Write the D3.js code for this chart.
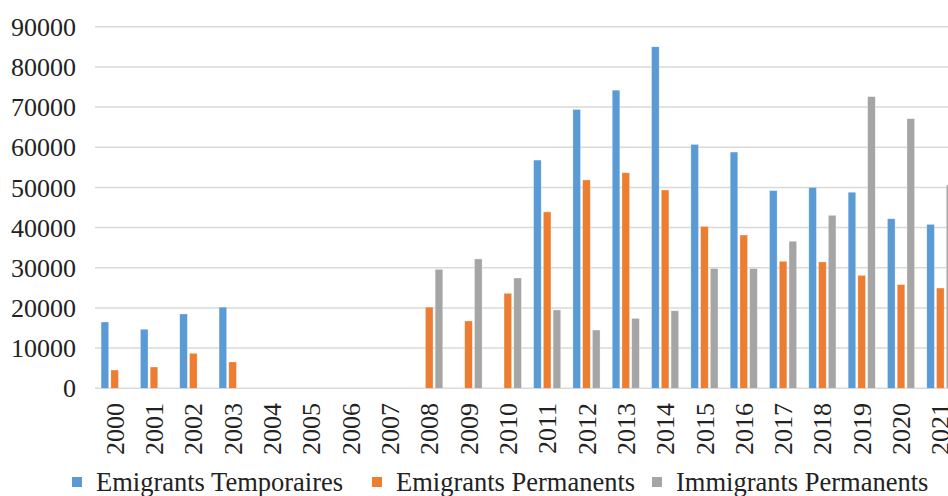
<!DOCTYPE html>
<html>
<head>
<meta charset="utf-8">
<script src="https://cdn.jsdelivr.net/npm/d3@7"></script>
<style>
  body { margin: 0; background: #fff; }
  svg { display: block; overflow: hidden; }
  text { font-family: "Liberation Serif", "Times New Roman", serif; fill: #222; }
</style>
</head>
<body>
<svg id="chart"></svg>
<script>
// values, null = no bar
var years = ["2000","2001","2002","2003","2004","2005","2006","2007","2008","2009","2010",
             "2011","2012","2013","2014","2015","2016","2017","2018","2019","2020","2021"];
var emigrantsTemporaires = [16500,14700,18500,20200,null,null,null,null,null,null,null,
                            56800,69400,74200,85000,60700,58800,49200,50000,48800,42200,40800];
var emigrantsPermanents = [4550,5300,8700,6550,null,null,null,null,20200,16750,23650,
                           43900,51850,53650,49350,40300,38150,31600,31450,28100,25800,24950];
var immigrantsPermanents = [null,null,null,null,null,null,null,null,29600,32200,27450,
                            19500,14500,17400,19300,29800,29800,36600,43050,72600,67100,50600];
var seriesNames = ["Emigrants Temporaires", "Emigrants Permanents", "Immigrants Permanents"];
var yTicks = [0,10000,20000,30000,40000,50000,60000,70000,80000,90000];

var colors = ["#5B9BD5", "#ED7D31", "#A5A5A5"];
var allSeries = [emigrantsTemporaires, emigrantsPermanents, immigrantsPermanents];

function drawChart() {
  var svgWidth = 948, svgHeight = 496;
  var plotLeft = 95, plotRight = 960, plotTop = 26.7, plotBottom = 388.3;

  var svg = d3.select("#chart")
    .attr("width", svgWidth)
    .attr("height", svgHeight);

  var x0 = d3.scaleBand()
    .domain(years)
    .range([plotLeft, plotRight])
    .paddingInner(0.31)
    .paddingOuter(0.155);

  var x1 = d3.scaleBand()
    .domain(d3.range(seriesNames.length))
    .range([0, x0.bandwidth()])
    .paddingInner(0.22);

  var y = d3.scaleLinear()
    .domain([0, 90000])
    .range([plotBottom, plotTop]);

  // gridlines
  svg.append("g")
    .selectAll("line")
    .data(yTicks)
    .join("line")
    .attr("x1", plotLeft)
    .attr("x2", svgWidth)
    .attr("y1", function (d) { return y(d) })
    .attr("y2", function (d) { return y(d) })
    .attr("stroke", "#d9d9d9")
    .attr("stroke-width", 1.5);

  // y labels
  svg.append("g")
    .selectAll("text")
    .data(yTicks)
    .join("text")
    .attr("x", 76)
    .attr("y", function (d) { return y(d) })
    .attr("dy", "0.35em")
    .attr("text-anchor", "end")
    .attr("font-size", 26)
    .text(function (d) { return d });

  // bars
  var rows = [];
  years.forEach(function (yr, i) {
    allSeries.forEach(function (s, k) {
      if (s[i] != null) rows.push({ year: yr, k: k, value: s[i] });
    });
  });

  svg.append("g")
    .selectAll("rect")
    .data(rows)
    .join("rect")
    .attr("x", function (d) { return x0(d.year) + x1(d.k) })
    .attr("y", function (d) { return y(d.value) })
    .attr("width", x1.bandwidth())
    .attr("height", function (d) { return y(0) - y(d.value) })
    .attr("fill", function (d) { return colors[d.k] })
    .attr("stroke", "#fff")
    .attr("stroke-opacity", 0.5)
    .attr("stroke-width", 0.6);

  // x labels, rotated
  svg.append("g")
    .selectAll("text")
    .data(years)
    .join("text")
    .attr("transform", function (d) {
      return "translate(" + (x0(d) + x0.bandwidth() / 2) + ",403) rotate(-90)";
    })
    .attr("dy", "0.35em")
    .attr("text-anchor", "end")
    .attr("font-size", 26)
    .text(function (d) { return d });

  // legend
  var legendX = [72, 372, 652];
  var legend = svg.append("g")
    .selectAll("g")
    .data(seriesNames)
    .join("g")
    .attr("transform", function (d, i) { return "translate(" + legendX[i] + ",0)" });

  legend.append("rect")
    .attr("x", 0)
    .attr("y", 477)
    .attr("width", 10)
    .attr("height", 10)
    .attr("fill", function (d, i) { return colors[i] });

  legend.append("text")
    .attr("x", 24)
    .attr("y", 491)
    .attr("font-size", 26.5)
    .text(function (d) { return d });
}

drawChart();
</script>
</body>
</html>
